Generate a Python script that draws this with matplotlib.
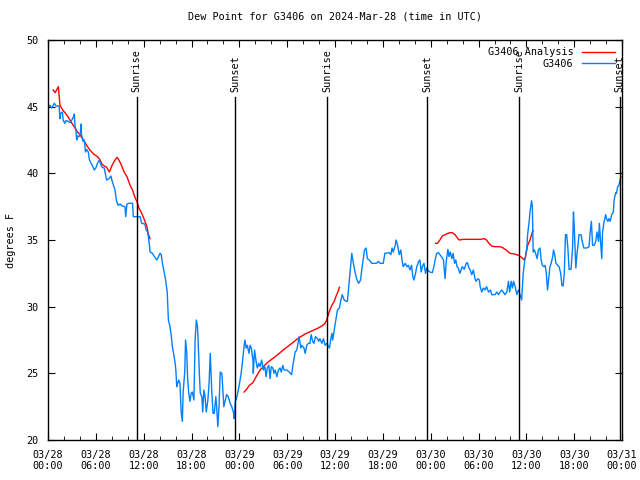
import numpy as np
import matplotlib
matplotlib.use('Agg')
import matplotlib.pyplot as plt
import matplotlib.dates as mdates

# hours after 2024-03-28 00:00 UTC, dew point in F
obs_hours = np.array([
    0.0, 0.05, 0.25, 0.45, 0.8, 1.0, 1.4, 1.5, 1.6, 1.8, 1.9, 2.1, 2.25, 2.55, 2.75, 3.0, 3.2, 3.3, 3.4, 3.5,
    3.6, 3.7, 3.9, 4.05, 4.15, 4.2, 4.4, 4.55, 4.7, 4.85, 5.05, 5.2, 5.4, 5.55, 5.8, 6.0, 6.2, 6.45, 6.65, 6.8,
    7.05, 7.35, 7.65, 7.9, 8.05, 8.4, 8.6, 8.8, 9.05, 9.3, 9.65, 9.75, 9.9, 10.1, 10.6, 10.7, 11.55, 11.75, 12.15, 12.3,
    12.5, 12.6, 12.7, 12.8, 13.1, 13.4, 13.65, 13.85, 14.05, 14.2, 14.35, 14.6, 14.75, 14.95, 15.1, 15.3, 15.45, 15.6, 15.75, 15.95,
    16.05, 16.15, 16.25, 16.4, 16.55, 16.7, 16.85, 16.95, 17.15, 17.25, 17.4, 17.5, 17.65, 17.8, 17.95, 18.1, 18.3, 18.45, 18.6, 18.75,
    18.85, 19.0, 19.1, 19.3, 19.4, 19.55, 19.7, 19.85, 20.05, 20.2, 20.35, 20.55, 20.7, 20.85, 21.05, 21.15, 21.3, 21.45, 21.6, 21.8,
    21.9, 22.05, 22.2, 22.4, 22.6, 22.85, 23.05, 23.25, 23.35, 23.5, 23.7, 23.95, 24.2, 24.4, 24.6, 24.7, 24.85, 25.0, 25.2, 25.35,
    25.5, 25.7, 25.75, 25.9, 26.1, 26.25, 26.45, 26.6, 26.8, 27.0, 27.2, 27.35, 27.5, 27.7, 27.85, 28.0, 28.2, 28.35, 28.5, 28.7,
    28.9, 29.1, 29.25, 29.45, 29.6, 29.95, 30.25, 30.55, 30.75, 31.0, 31.2, 31.4, 31.5, 31.7, 31.85, 32.1, 32.25, 32.45, 32.65, 32.85,
    33.0, 33.2, 33.35, 33.55, 33.8, 33.95, 34.1, 34.35, 34.55, 34.75, 34.95, 35.1, 35.3, 35.45, 35.6, 35.7, 35.9, 36.1, 36.3, 36.55,
    36.7, 36.9, 37.15, 37.4, 37.55, 37.7, 37.9, 38.1, 38.3, 38.5, 38.7, 38.95, 39.2, 39.4, 39.7, 39.9, 40.05, 40.3, 40.6, 41.2,
    41.45, 41.65, 42.05, 42.25, 42.8, 43.0, 43.15, 43.3, 43.55, 43.65, 43.85, 44.05, 44.25, 44.4, 44.55, 44.8, 45.0, 45.2, 45.4, 45.6,
    45.75, 45.9, 46.1, 46.25, 46.5, 46.65, 46.8, 46.95, 47.15, 47.35, 47.5, 47.7, 47.9, 48.2, 48.4, 48.55, 48.75, 48.95, 49.15, 49.35,
    49.6, 49.8, 49.95, 50.15, 50.3, 50.45, 50.65, 50.8, 51.0, 51.15, 51.3, 51.45, 51.65, 51.8, 51.95, 52.2, 52.45, 52.6, 52.8, 52.95,
    53.15, 53.35, 53.55, 53.7, 53.9, 54.1, 54.2, 54.4, 54.6, 54.8, 55.0, 55.25, 55.5, 55.65, 56.05, 56.3, 56.5, 56.7, 56.9, 57.1,
    57.3, 57.55, 57.75, 57.9, 58.1, 58.25, 58.4, 58.6, 58.8, 59.0, 59.2, 59.4, 59.6, 59.8, 60.05, 60.15, 60.35, 60.45, 60.6, 60.65,
    60.75, 60.85, 61.0, 61.15, 61.35, 61.5, 61.7, 61.85, 62.0, 62.2, 62.35, 62.5, 62.65, 62.8, 62.95, 63.1, 63.3, 63.4, 63.55, 63.7,
    63.95, 64.1, 64.3, 64.45, 64.6, 64.75, 64.9, 65.05, 65.2, 65.35, 65.6, 65.8, 65.9, 66.0, 66.2, 66.35, 66.45, 66.6, 66.85, 67.0,
    67.2, 67.55, 67.85, 68.0, 68.15, 68.3, 68.5, 68.7, 68.85, 69.05, 69.15, 69.35, 69.45, 69.55, 69.75, 69.95, 70.05, 70.2, 70.35, 70.5,
    70.7, 70.9, 71.0, 71.2, 71.3, 71.45, 71.6, 71.75, 71.85])
obs_vals = np.array([
    45.5, 45.0, 45.1, 44.9, 45.25, 45.05, 45.05, 44.1, 44.5, 44.6, 44.0, 43.75, 43.95, 43.9, 43.8, 44.0, 44.25, 44.45, 43.5, 43.25,
    42.5, 42.8, 42.75, 43.0, 43.7, 42.9, 42.4, 42.5, 41.6, 41.8, 41.6, 41.0, 40.75, 40.6, 40.25, 40.4, 40.75, 41.0, 40.6, 40.45,
    40.4, 39.5, 39.6, 39.8, 39.4, 38.75, 37.9, 37.6, 37.7, 37.55, 37.5, 36.75, 37.7, 37.75, 37.75, 36.75, 36.75, 36.25, 36.2, 35.75,
    35.6, 35.2, 34.75, 34.1, 34.0, 33.7, 33.5, 33.75, 34.0, 33.9, 33.25, 32.5, 32.0, 31.1, 29.0, 28.5, 27.9, 27.0, 26.5, 25.75,
    25.1, 24.0, 24.25, 24.5, 24.25, 22.1, 21.4, 23.6, 25.1, 27.5, 26.6, 24.75, 23.5, 22.9, 23.5, 23.6, 23.0, 27.5, 29.0, 28.5,
    27.1, 24.75, 23.5, 23.25, 22.1, 23.75, 23.25, 22.1, 23.0, 24.25, 26.5, 23.5, 22.0, 22.0, 23.25, 22.5, 21.0, 22.5, 25.1, 25.0,
    24.1, 22.5, 22.9, 23.4, 23.25, 22.75, 22.5, 22.1, 21.6, 22.9, 23.25, 24.0, 24.9, 25.9, 27.1, 27.5, 26.9, 27.1, 26.5, 27.1,
    26.9, 26.0, 25.0, 26.75, 25.9, 25.4, 25.75, 25.5, 26.0, 25.25, 25.5, 24.75, 25.4, 25.6, 24.6, 25.5, 25.4, 25.0, 25.25, 24.75,
    25.25, 25.4, 25.1, 25.6, 25.25, 25.25, 25.1, 24.9, 25.75, 26.6, 26.75, 27.4, 27.75, 26.9, 27.1, 26.9, 26.5, 27.1, 27.25, 27.25,
    27.9, 27.4, 27.25, 27.75, 27.6, 27.4, 27.6, 27.25, 27.6, 27.1, 27.25, 27.1, 26.9, 27.5, 28.0, 27.5, 28.25, 29.0, 29.75, 29.9,
    30.4, 30.9, 30.5, 30.4, 30.4, 31.4, 32.75, 34.0, 33.25, 32.6, 32.1, 31.75, 32.0, 33.0, 34.25, 34.4, 33.6, 33.5, 33.25, 33.25,
    33.4, 33.25, 33.25, 34.0, 34.05, 33.9, 34.4, 34.1, 34.6, 35.0, 34.6, 33.9, 34.25, 33.5, 33.0, 33.25, 33.0, 33.1, 32.75, 33.1,
    32.25, 32.0, 32.5, 33.0, 33.4, 33.5, 32.6, 33.0, 33.25, 32.5, 32.9, 32.7, 32.6, 32.55, 33.0, 33.5, 34.0, 34.05, 33.9, 33.75,
    33.5, 32.1, 33.4, 34.3, 33.75, 34.1, 33.6, 34.0, 33.25, 33.5, 33.0, 32.9, 32.5, 32.75, 33.0, 32.8, 33.25, 33.3, 32.9, 32.75,
    32.4, 32.75, 32.1, 31.9, 32.1, 32.0, 31.5, 31.1, 31.4, 31.25, 31.5, 31.1, 31.25, 30.9, 30.9, 31.1, 30.9, 31.1, 31.25, 31.1,
    30.9, 31.1, 31.9, 31.1, 31.9, 31.4, 31.9, 31.5, 30.9, 31.25, 30.9, 30.5, 32.5, 33.5, 34.4, 35.4, 36.4, 37.1, 37.75, 37.95,
    37.5, 34.1, 34.25, 34.0, 33.6, 34.25, 34.4, 33.5, 33.1, 33.0, 33.1, 32.5, 31.25, 32.1, 33.0, 33.25, 33.75, 34.25, 33.9, 33.25,
    33.1, 33.0, 32.5, 31.6, 31.55, 32.5, 35.4, 35.4, 34.4, 32.8, 32.8, 34.5, 37.1, 36.0, 32.9, 34.0, 34.5, 35.4, 35.4, 34.9,
    34.4, 34.4, 34.5, 35.6, 36.4, 34.6, 34.6, 34.9, 35.6, 34.9, 36.25, 34.4, 33.6, 35.6, 36.4, 36.9, 36.6, 36.4, 36.6, 36.4,
    36.9, 37.1, 38.0, 38.55, 38.5, 39.0, 39.1, 39.5, 39.75])

# analysis series, nan = gap
ana_hours = np.array([
    0.65, 0.9, 1.3, 1.5, 1.7, 1.9, 2.2, 2.55, 3.0, 3.4, 3.7, 4.0, 4.45, 4.85, 5.25, 5.7, 6.1, 6.5, 6.75, 7.05,
    7.35, 7.7, 8.0, 8.3, 8.65, 8.9, 9.25, 9.55, 9.9, 10.3, 10.6, 10.9, 11.15, 11.4, 11.75, 12.1, 12.4, 12.6, 12.8,
    13.0,
    24.6, 24.9, 25.25, 25.7, 26.1, 26.6, 27.0, 27.5, 28.05, 28.6, 29.1, 29.6, 30.15, 30.7, 31.2, 31.7, 32.25, 32.8, 33.35,
    33.9, 34.35, 34.75, 34.95, 35.15, 35.35, 35.6, 35.9, 36.1, 36.35, 36.55,
    37.0,
    48.6, 48.85, 49.15, 49.45, 49.8, 50.15, 50.45, 50.7, 51.05, 51.4, 51.6, 52.1, 52.7, 53.55, 54.2, 54.7, 55.0, 55.3,
    55.65, 56.05, 56.7, 57.1, 57.55, 57.95, 58.5, 59.0, 59.4, 59.75, 59.9, 60.15, 60.45, 60.75, 60.85])
ana_vals = np.array([
    46.25, 46.05, 46.5, 45.1, 44.9, 44.7, 44.5, 44.2, 43.75, 43.4, 43.1, 42.9, 42.5, 42.1, 41.75, 41.45, 41.3, 41.05, 40.7, 40.55,
    40.45, 40.1, 40.55, 40.9, 41.2, 41.0, 40.55, 40.1, 39.75, 39.1, 38.75, 38.2, 37.9, 37.4, 37.0, 36.5, 36.0, 35.4, 35.1,
    np.nan,
    23.6, 23.8, 24.1, 24.3, 24.75, 25.25, 25.5, 25.8, 26.05, 26.3, 26.55, 26.8, 27.05, 27.3, 27.55, 27.75, 27.95, 28.1, 28.25,
    28.4, 28.55, 28.75, 29.0, 29.4, 29.75, 30.1, 30.4, 30.75, 31.1, 31.45,
    np.nan,
    34.75, 34.75, 35.0, 35.3, 35.4, 35.5, 35.55, 35.55, 35.4, 35.1, 35.0, 35.05, 35.05, 35.05, 35.05, 35.1, 35.0, 34.75,
    34.55, 34.5, 34.5, 34.4, 34.2, 34.0, 33.95, 33.85, 33.7, 33.5, 33.75, 34.6, 35.0, 35.6, 35.7])

sun_hours = [11.1, 23.45, 35.05, 47.55, 59.1, 71.7]
sun_labels = ['Sunrise', 'Sunset', 'Sunrise', 'Sunset', 'Sunrise', 'Sunset']

start = np.datetime64('2024-03-28T00:00')
def to_time(h):
    return start + (np.asarray(h) * 60).round().astype('timedelta64[m]')

plt.rcParams['font.family'] = 'DejaVu Sans Mono'
fig = plt.figure(figsize=(6.4, 4.8), dpi=100)
ax = fig.add_axes([0.075, 0.0833, 0.897, 0.8334])

ax.plot(to_time(ana_hours), ana_vals, color='#ff0000', lw=1.0, label='G3406 Analysis')
ax.plot(to_time(obs_hours), obs_vals, color='#0080ff', lw=1.0, label='G3406')

for h, lab in zip(sun_hours, sun_labels):
    t = to_time(h)
    ax.axvline(t, ymin=0, ymax=0.857, color='black', lw=1.0)
    ax.text(t, 46.1, lab, rotation=90, ha='center', va='bottom', fontsize=7.3)

ax.set_xlim(to_time(0), to_time(72))
ax.set_ylim(20, 50)
ax.set_yticks(range(20, 51, 5))
ax.xaxis.set_major_locator(mdates.HourLocator(byhour=range(0, 24, 6)))
ax.xaxis.set_minor_locator(mdates.HourLocator(byhour=range(0, 24, 2)))
ax.xaxis.set_major_formatter(mdates.DateFormatter('%m/%d\n%H:%M'))
ax.tick_params(which='both', direction='in', top=True, right=True, labelsize=7.3)
ax.tick_params(which='major', length=5, pad=7)
ax.tick_params(which='minor', length=3)
for s in ax.spines.values():
    s.set_linewidth(1.0)

ax.set_ylabel('degrees F', fontsize=7.3, labelpad=7)
ax.set_title('Dew Point for G3406 on 2024-Mar-28 (time in UTC)', fontsize=7.3, pad=15)
ax.legend(loc='upper right', frameon=False, markerfirst=False, fontsize=7.3,
          handlelength=3.3, labelspacing=0.15, borderaxespad=0.3, handletextpad=0.8)

fig.savefig('out.png', dpi=100)
